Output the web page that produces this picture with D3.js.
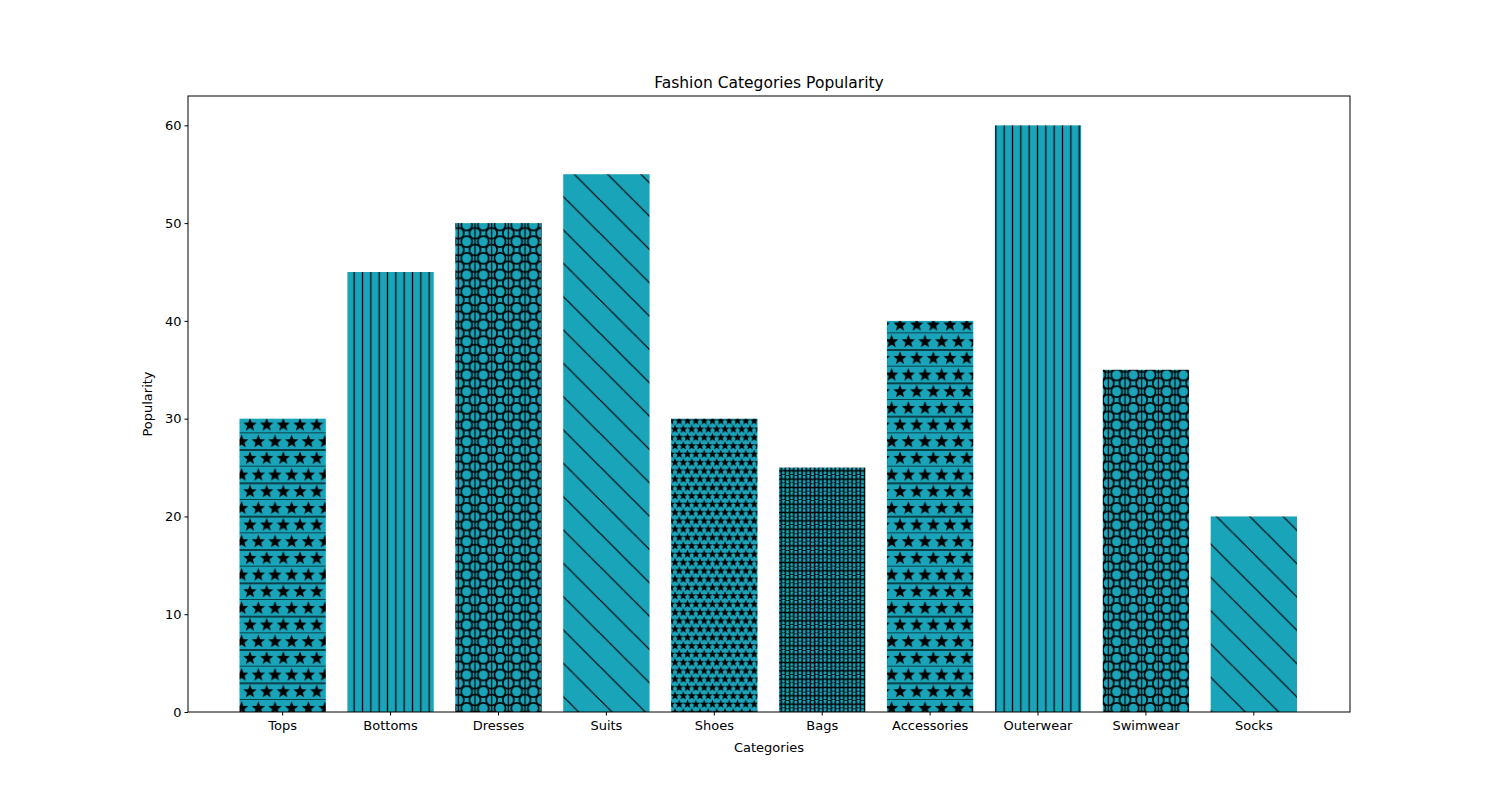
<!DOCTYPE html>
<html lang="en">
<head>
<meta charset="UTF-8">
<title>Fashion Categories Popularity</title>
<style>
  body { margin: 0; background: #fff; }
  text { font-family: "DejaVu Sans", sans-serif; }
</style>
</head>
<body>
<div id="chart"></div>
<script src="https://d3js.org/d3.v7.min.js"></script>
<script>
const categories = ["Tops", "Bottoms", "Dresses", "Suits", "Shoes", "Bags", "Accessories", "Outerwear", "Swimwear", "Socks"];
const popularity = [30, 45, 50, 55, 30, 25, 40, 60, 35, 20];
const hatches = ["star-line", "vline", "circle-vline", "diag", "star-dense", "circle-small", "star-line", "vline", "circle-vline", "diag"];
const yTicks = [0, 10, 20, 30, 40, 50, 60];

const W = 1500, H = 800;
const m = { left: 188, right: 150, top: 96, bottom: 88 };
const barColor = "#1aa4b9";

const svg = d3.select("#chart").append("svg").attr("width", W).attr("height", H);
const defs = svg.append("defs");

function starPath(cx, cy, r) {
  let p = "";
  for (let i = 0; i < 10; i++) {
    const rr = i % 2 === 0 ? r : r * 0.42;
    const a = -Math.PI / 2 + i * Math.PI / 5;
    p += (i ? "L" : "M") + (cx + rr * Math.cos(a)).toFixed(2) + "," + (cy + rr * Math.sin(a)).toFixed(2);
  }
  return p + "Z";
}

function makePattern(id, w, h, draw) {
  const p = defs.append("pattern").attr("id", id).attr("patternUnits", "userSpaceOnUse")
    .attr("width", w).attr("height", h);
  p.append("rect").attr("width", w).attr("height", h).attr("fill", barColor);
  draw(p, w, h);
}

const u = 100 / 6; // hatch cell size
makePattern("star-line", u, 2 * u, (p, w, h) => {
  [[w / 2, u / 2], [0, 1.5 * u], [w, 1.5 * u]].forEach(([x, y]) =>
    p.append("path").attr("d", starPath(x, y, 7)).attr("fill", "#000"));
  [[0, u / 2 - 6], [w / 2, u / 2 - 6]];
  [u, 2 * u].forEach(y => p.append("line").attr("x1", 0).attr("x2", w).attr("y1", y).attr("y2", y)
    .attr("stroke", "#000").attr("stroke-width", 1.2));
});
makePattern("vline", 100 / 12, 10, (p, w, h) => {
  p.append("line").attr("x1", w / 2).attr("x2", w / 2).attr("y1", 0).attr("y2", h)
    .attr("stroke", "#000").attr("stroke-width", 1.2);
});
makePattern("circle-vline", u, u, (p, w, h) => {
  p.append("line").attr("x1", w / 2).attr("x2", w / 2).attr("y1", 0).attr("y2", h)
    .attr("stroke", "#000").attr("stroke-width", 1.2);
  [[w / 2, 0], [w / 2, h], [0, h / 2], [w, h / 2]].forEach(([x, y]) =>
    p.append("circle").attr("cx", x).attr("cy", y).attr("r", 5.5)
      .attr("fill", "none").attr("stroke", "#000").attr("stroke-width", 1.6));
});
makePattern("diag", 100 / 3, 100 / 3, (p, w, h) => {
  [[-w, 0], [0, 0], [w, 0]].forEach(([dx]) =>
    p.append("line").attr("x1", dx).attr("y1", 0).attr("x2", dx + w).attr("y2", h)
      .attr("stroke", "#000").attr("stroke-width", 1.2));
});
makePattern("star-dense", u / 2, u, (p, w, h) => {
  [[w / 2, h / 4], [0, 3 * h / 4], [w, 3 * h / 4]].forEach(([x, y]) =>
    p.append("path").attr("d", starPath(x, y, 4.6)).attr("fill", "#000"));
});
makePattern("circle-small", u / 2, u / 2, (p, w, h) => {
  [[w / 2, h / 4], [0, 3 * h / 4], [w, 3 * h / 4]].forEach(([x, y]) =>
    p.append("circle").attr("cx", x).attr("cy", y).attr("r", 2.3)
      .attr("fill", "none").attr("stroke", "#000").attr("stroke-width", 1.4));
});

const x = d3.scaleBand().domain(categories).range([240 - 0.1 * 107.9 - 0.5, 1297 + 0.1 * 107.9]).paddingInner(0.2).paddingOuter(0.1);
const y = d3.scaleLinear().domain([0, 63]).range([H - m.bottom, m.top]);

const g = svg.append("g");
g.selectAll("rect.bar").data(categories).join("rect")
  .attr("class", "bar")
  .attr("x", d => x(d))
  .attr("width", x.bandwidth())
  .attr("y", (d, i) => y(popularity[i]))
  .attr("height", (d, i) => y(0) - y(popularity[i]))
  .attr("fill", (d, i) => `url(#${hatches[i]})`);

svg.append("g").attr("transform", `translate(0,${H - m.bottom})`)
  .call(d3.axisBottom(x).tickSize(3.5).tickSizeOuter(0))
  .call(a => a.select(".domain").remove())
  .selectAll("text").attr("font-size", 13).attr("dy", "0.9em");
svg.append("g").attr("transform", `translate(${m.left},0)`)
  .call(d3.axisLeft(y).tickValues(yTicks).tickSize(3.5).tickSizeOuter(0))
  .call(a => a.select(".domain").remove())
  .selectAll("text").attr("font-size", 13);

svg.append("rect").attr("x", m.left).attr("y", m.top)
  .attr("width", W - m.left - m.right).attr("height", H - m.top - m.bottom)
  .attr("fill", "none").attr("stroke", "#000").attr("stroke-width", 1);

svg.append("text").attr("x", (m.left + W - m.right) / 2).attr("y", 88)
  .attr("text-anchor", "middle").attr("font-size", 15.5).text("Fashion Categories Popularity");
svg.append("text").attr("x", (m.left + W - m.right) / 2).attr("y", 752)
  .attr("text-anchor", "middle").attr("font-size", 13).text("Categories");
svg.append("text").attr("transform", `translate(152,${(m.top + H - m.bottom) / 2}) rotate(-90)`)
  .attr("text-anchor", "middle").attr("font-size", 13).text("Popularity");
</script>
</body>
</html>
